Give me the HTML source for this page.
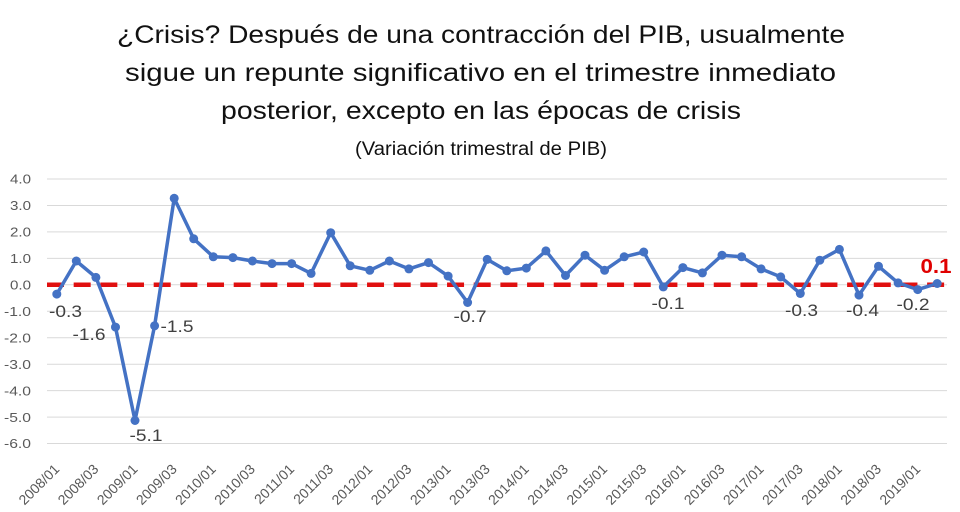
<!DOCTYPE html>
<html>
<head>
<meta charset="utf-8">
<style>
html,body{margin:0;padding:0;background:#fff;}
svg{display:block;}
text{font-family:"Liberation Sans",sans-serif;}
</style>
</head>
<body>
<svg width="960" height="512" viewBox="0 0 960 512" xmlns="http://www.w3.org/2000/svg">
<rect width="960" height="512" fill="#fff"/>
<!-- Title -->
<g fill="#111" font-size="25" text-anchor="start">
<text x="117" y="43" textLength="728" lengthAdjust="spacingAndGlyphs">¿Crisis? Después de una contracción del PIB, usualmente</text>
<text x="125" y="81" textLength="711" lengthAdjust="spacingAndGlyphs">sigue un repunte significativo en el trimestre inmediato</text>
<text x="221" y="119" textLength="520" lengthAdjust="spacingAndGlyphs">posterior, excepto en las épocas de crisis</text>
</g>
<text x="355" y="155" font-size="19" fill="#111" textLength="252" lengthAdjust="spacingAndGlyphs">(Variación trimestral de PIB)</text>

<!-- Gridlines -->
<g stroke="#d9d9d9" stroke-width="1">
<line x1="47" x2="947" y1="179.0" y2="179.0"/>
<line x1="47" x2="947" y1="205.5" y2="205.5"/>
<line x1="47" x2="947" y1="231.9" y2="231.9"/>
<line x1="47" x2="947" y1="258.4" y2="258.4"/>
<line x1="47" x2="947" y1="284.8" y2="284.8"/>
<line x1="47" x2="947" y1="311.3" y2="311.3"/>
<line x1="47" x2="947" y1="337.7" y2="337.7"/>
<line x1="47" x2="947" y1="364.2" y2="364.2"/>
<line x1="47" x2="947" y1="390.6" y2="390.6"/>
<line x1="47" x2="947" y1="417.1" y2="417.1"/>
<line x1="47" x2="947" y1="443.5" y2="443.5"/>
</g>

<!-- Y axis labels -->
<g fill="#595959" font-size="13" text-anchor="end">
<text x="31" y="183.7" textLength="21" lengthAdjust="spacingAndGlyphs">4.0</text>
<text x="31" y="210.2" textLength="21" lengthAdjust="spacingAndGlyphs">3.0</text>
<text x="31" y="236.6" textLength="21" lengthAdjust="spacingAndGlyphs">2.0</text>
<text x="31" y="263.1" textLength="21" lengthAdjust="spacingAndGlyphs">1.0</text>
<text x="31" y="289.5" textLength="21" lengthAdjust="spacingAndGlyphs">0.0</text>
<text x="31" y="316.0" textLength="27" lengthAdjust="spacingAndGlyphs">-1.0</text>
<text x="31" y="342.4" textLength="27" lengthAdjust="spacingAndGlyphs">-2.0</text>
<text x="31" y="368.9" textLength="27" lengthAdjust="spacingAndGlyphs">-3.0</text>
<text x="31" y="395.3" textLength="27" lengthAdjust="spacingAndGlyphs">-4.0</text>
<text x="31" y="421.8" textLength="27" lengthAdjust="spacingAndGlyphs">-5.0</text>
<text x="31" y="448.2" textLength="27" lengthAdjust="spacingAndGlyphs">-6.0</text>
</g>

<!-- X axis labels -->
<g fill="#595959" font-size="14" text-anchor="end">
<text transform="translate(60.3,470) rotate(-45)">2008/01</text>
<text transform="translate(99.4,470) rotate(-45)">2008/03</text>
<text transform="translate(138.5,470) rotate(-45)">2009/01</text>
<text transform="translate(177.7,470) rotate(-45)">2009/03</text>
<text transform="translate(216.8,470) rotate(-45)">2010/01</text>
<text transform="translate(255.9,470) rotate(-45)">2010/03</text>
<text transform="translate(295.1,470) rotate(-45)">2011/01</text>
<text transform="translate(334.2,470) rotate(-45)">2011/03</text>
<text transform="translate(373.3,470) rotate(-45)">2012/01</text>
<text transform="translate(412.4,470) rotate(-45)">2012/03</text>
<text transform="translate(451.6,470) rotate(-45)">2013/01</text>
<text transform="translate(490.7,470) rotate(-45)">2013/03</text>
<text transform="translate(529.8,470) rotate(-45)">2014/01</text>
<text transform="translate(569.0,470) rotate(-45)">2014/03</text>
<text transform="translate(608.1,470) rotate(-45)">2015/01</text>
<text transform="translate(647.2,470) rotate(-45)">2015/03</text>
<text transform="translate(686.4,470) rotate(-45)">2016/01</text>
<text transform="translate(725.5,470) rotate(-45)">2016/03</text>
<text transform="translate(764.6,470) rotate(-45)">2017/01</text>
<text transform="translate(803.8,470) rotate(-45)">2017/03</text>
<text transform="translate(842.9,470) rotate(-45)">2018/01</text>
<text transform="translate(882.0,470) rotate(-45)">2018/03</text>
<text transform="translate(921.2,470) rotate(-45)">2019/01</text>
</g>

<!-- Red dashed zero line -->
<line x1="47" x2="947" y1="284.8" y2="284.8" stroke="#e01010" stroke-width="4.5" stroke-dasharray="17 9.67"/>

<!-- Series -->
<polyline fill="none" stroke="#4472c4" stroke-width="3.5" stroke-linejoin="round" points="56.8,294.1 76.3,261.0 95.9,277.4 115.5,327.1 135.0,420.5 154.6,325.8 174.2,198.3 193.7,238.8 213.3,256.8 232.9,257.6 252.4,261.0 272.0,263.6 291.6,263.6 311.1,273.4 330.7,232.7 350.2,265.8 369.8,270.3 389.4,261.0 408.9,268.9 428.5,262.6 448.1,276.1 467.6,302.5 487.2,259.4 506.8,270.8 526.3,268.1 545.9,250.9 565.5,275.5 585.0,255.2 604.6,270.3 624.2,256.8 643.7,252.0 663.3,286.9 682.9,267.6 702.4,272.9 722.0,255.2 741.6,256.8 761.1,268.9 780.7,276.9 800.3,293.5 819.8,260.2 839.4,249.4 859.0,295.1 878.5,266.3 898.1,282.9 917.7,289.6 937.2,283.5"/>
<g fill="#4472c4">
<circle cx="56.8" cy="294.1" r="4.5"/><circle cx="76.3" cy="261.0" r="4.5"/><circle cx="95.9" cy="277.4" r="4.5"/><circle cx="115.5" cy="327.1" r="4.5"/><circle cx="135.0" cy="420.5" r="4.5"/><circle cx="154.6" cy="325.8" r="4.5"/><circle cx="174.2" cy="198.3" r="4.5"/><circle cx="193.7" cy="238.8" r="4.5"/><circle cx="213.3" cy="256.8" r="4.5"/><circle cx="232.9" cy="257.6" r="4.5"/><circle cx="252.4" cy="261.0" r="4.5"/><circle cx="272.0" cy="263.6" r="4.5"/><circle cx="291.6" cy="263.6" r="4.5"/><circle cx="311.1" cy="273.4" r="4.5"/><circle cx="330.7" cy="232.7" r="4.5"/><circle cx="350.2" cy="265.8" r="4.5"/><circle cx="369.8" cy="270.3" r="4.5"/><circle cx="389.4" cy="261.0" r="4.5"/><circle cx="408.9" cy="268.9" r="4.5"/><circle cx="428.5" cy="262.6" r="4.5"/><circle cx="448.1" cy="276.1" r="4.5"/><circle cx="467.6" cy="302.5" r="4.5"/><circle cx="487.2" cy="259.4" r="4.5"/><circle cx="506.8" cy="270.8" r="4.5"/><circle cx="526.3" cy="268.1" r="4.5"/><circle cx="545.9" cy="250.9" r="4.5"/><circle cx="565.5" cy="275.5" r="4.5"/><circle cx="585.0" cy="255.2" r="4.5"/><circle cx="604.6" cy="270.3" r="4.5"/><circle cx="624.2" cy="256.8" r="4.5"/><circle cx="643.7" cy="252.0" r="4.5"/><circle cx="663.3" cy="286.9" r="4.5"/><circle cx="682.9" cy="267.6" r="4.5"/><circle cx="702.4" cy="272.9" r="4.5"/><circle cx="722.0" cy="255.2" r="4.5"/><circle cx="741.6" cy="256.8" r="4.5"/><circle cx="761.1" cy="268.9" r="4.5"/><circle cx="780.7" cy="276.9" r="4.5"/><circle cx="800.3" cy="293.5" r="4.5"/><circle cx="819.8" cy="260.2" r="4.5"/><circle cx="839.4" cy="249.4" r="4.5"/><circle cx="859.0" cy="295.1" r="4.5"/><circle cx="878.5" cy="266.3" r="4.5"/><circle cx="898.1" cy="282.9" r="4.5"/><circle cx="917.7" cy="289.6" r="4.5"/><circle cx="937.2" cy="283.5" r="4.5"/>
</g>

<!-- Data labels -->
<g fill="#404040" font-size="17" text-anchor="middle">
<text x="65.5" y="317" textLength="33" lengthAdjust="spacingAndGlyphs">-0.3</text>
<text x="89" y="340" textLength="33" lengthAdjust="spacingAndGlyphs">-1.6</text>
<text x="146" y="441" textLength="33" lengthAdjust="spacingAndGlyphs">-5.1</text>
<text x="177" y="332" textLength="33" lengthAdjust="spacingAndGlyphs">-1.5</text>
<text x="470" y="322" textLength="33" lengthAdjust="spacingAndGlyphs">-0.7</text>
<text x="668" y="309" textLength="33" lengthAdjust="spacingAndGlyphs">-0.1</text>
<text x="801.5" y="316" textLength="33" lengthAdjust="spacingAndGlyphs">-0.3</text>
<text x="862.5" y="316" textLength="33" lengthAdjust="spacingAndGlyphs">-0.4</text>
<text x="913" y="310" textLength="33" lengthAdjust="spacingAndGlyphs">-0.2</text>
</g>
<text x="936" y="273" font-size="20" font-weight="bold" fill="#e00000" text-anchor="middle" textLength="31" lengthAdjust="spacingAndGlyphs">0.1</text>
</svg>
</body>
</html>
